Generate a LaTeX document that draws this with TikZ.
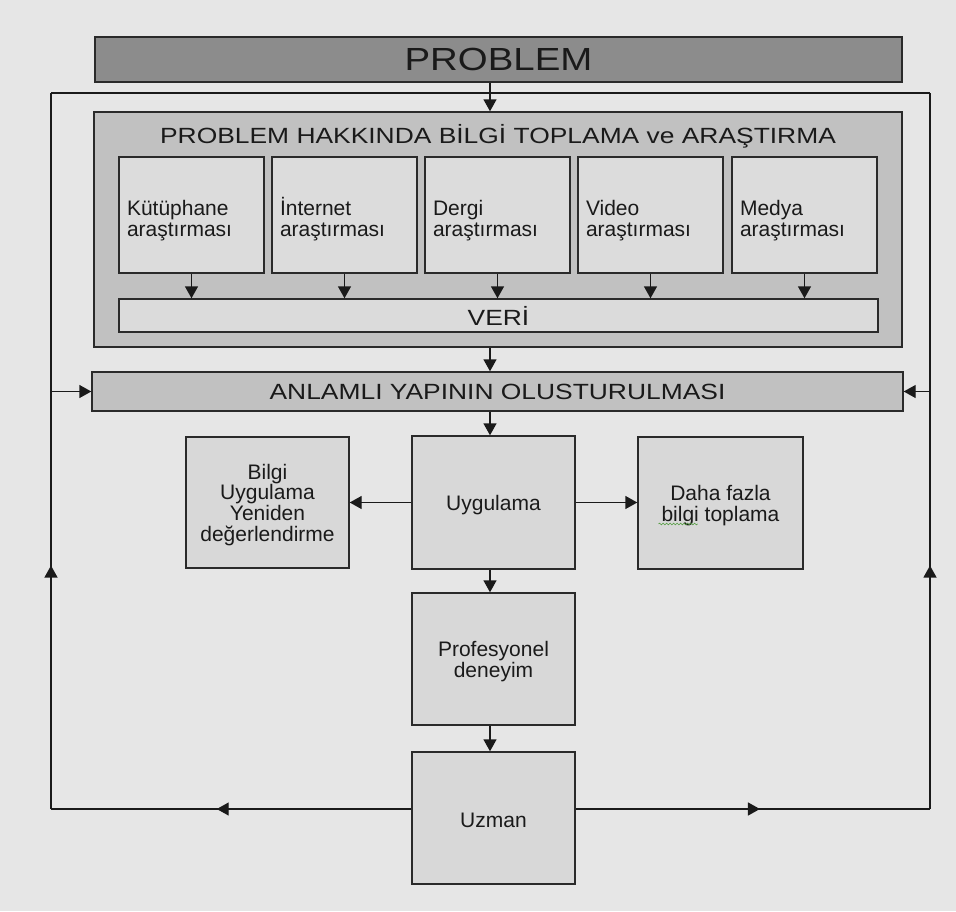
\documentclass[tikz,border=0pt]{standalone}
\usepackage{fontspec}
\setmainfont{Liberation Sans}
\newfontfamily\widefont{Liberation Sans}[FakeStretch=1.2]
\usetikzlibrary{arrows.meta,decorations.markings,decorations.pathmorphing,calc}
\definecolor{bg}{HTML}{E6E6E6}
\definecolor{ink}{HTML}{1A1A1A}
\definecolor{edge}{HTML}{2A2A2A}
\definecolor{dark}{HTML}{8C8C8C}
\definecolor{mid}{HTML}{C1C1C1}
\definecolor{pale}{HTML}{DCDCDC}
\definecolor{spell}{HTML}{4E9A3A}
\begin{document}
\begin{tikzpicture}[x=1pt,y=-1pt,
  box/.style={draw=edge, line width=1.4pt, inner sep=0pt, text=ink},
  headbox/.style={box, font={\widefont\fontsize{22}{24}\selectfont}},
  srcbox/.style={box, fill=pale, inner xsep=8pt, text width=129pt,
    minimum height=116pt, align=left, font={\fontsize{21}{21}\selectfont},
    text height=27pt},
  stagebox/.style={box, fill=pale!98!black, minimum width=163pt,
    minimum height=132pt, align=center, font={\fontsize{21}{20.7}\selectfont}},
  wire/.style={draw=ink, line width=1.4pt},
  arr/.style={wire, -{Triangle[length=12pt,width=13pt]}},
  midarrow/.style={postaction={decorate, decoration={markings,
    mark=at position #1 with {\arrow{Triangle[length=12pt,width=13pt]}}}}}
]
\useasboundingbox (0,0) rectangle (956,911);
\fill[bg] (0,0) rectangle (956,911);

% problem statement
\node[box, fill=dark, minimum width=807pt, minimum height=45pt,
  font={\widefont\fontsize{32}{34}\selectfont}] (problem) at (498.5,59.5) {PROBLEM};

% research stage with its sources
\node[box, fill=mid, minimum width=808pt, minimum height=235pt] (gather) at (498,229.5) {};
\node[text=ink, inner sep=0pt, font={\widefont\fontsize{22}{24}\selectfont}] (gtitle) at (498,136)
  {PROBLEM HAKKINDA BİLGİ TOPLAMA ve ARAŞTIRMA};

\node[srcbox] (lib) at (191.5,215) {Kütüphane\\araştırması};
\node[srcbox] (web) at (344.5,215) {İnternet\\araştırması};
\node[srcbox] (mag) at (497.5,215) {Dergi\\araştırması};
\node[srcbox] (vid) at (650.5,215) {Video\\araştırması};
\node[srcbox] (med) at (804.5,215) {Medya\\araştırması};

\node[headbox, fill=pale!104!white, minimum width=759pt, minimum height=33pt] (veri) at (498.5,315.5) {VERİ};

\foreach \s in {lib,web,mag,vid,med}
  \draw[arr] (\s.south) -- (\s.south |- veri.north);

% structuring
\node[headbox, fill=mid, minimum width=811pt, minimum height=39pt] (anlam) at (497.5,391.5)
  {ANLAMLI YAPININ OLUSTURULMASI};

% application stages (text height nudges each text block a little lower)
\node[stagebox, minimum height=133pt, text height=20pt] (uyg) at (493.5,502.5) {Uygulama};
\node[stagebox, minimum height=131pt, text height=82pt] (bilgi) at (267.5,502.5)
  {Bilgi\\Uygulama\\Yeniden\\değerlendirme};
\node[stagebox, minimum width=165pt, text height=41pt] (daha) at (720.5,503) {Daha fazla\\bilgi toplama};
\node[stagebox, text height=41pt] (prof) at (493.5,659) {Profesyonel\\deneyim};
\node[stagebox, text height=20pt] (uzman) at (493.5,818) {Uzman};

% spelling mark under "bilgi"
\draw[spell, line width=0.6pt, decorate,
  decoration={snake, amplitude=0.9pt, segment length=3.5pt}]
  ($(daha.center)+(-62,21)$) -- ($(daha.center)+(-23,21)$);

% main flow down the centre
\coordinate (spine) at (490,0);
\draw[arr] (spine |- problem.south) -- (spine |- gather.north);
\draw[arr] (spine |- gather.south) -- (spine |- anlam.north);
\draw[arr] (spine |- anlam.south) -- (spine |- uyg.north);
\draw[arr] (spine |- uyg.south) -- (spine |- prof.north);
\draw[arr] (spine |- prof.south) -- (spine |- uzman.north);

\draw[arr] (uyg.west) -- (bilgi.east |- uyg.west);
\draw[arr] (uyg.east) -- (daha.west |- uyg.east);

% feedback loop from the expert back to the structuring stage
\coordinate (tl) at (51,93);
\coordinate (tr) at (930,93);
\coordinate (bl) at (51,809);
\coordinate (br) at (930,809);
\draw[wire] (tl) -- (tr);
\draw[wire, midarrow=0.54] (uzman.west |- bl) -- (bl);
\draw[wire, midarrow=0.52] (uzman.east |- br) -- (br);
\draw[wire, midarrow=0.34] (bl) -- (tl);
\draw[wire, midarrow=0.34] (br) -- (tr);
\draw[arr] (tl |- anlam.west) -- (anlam.west);
\draw[arr] (tr |- anlam.east) -- (anlam.east);
\end{tikzpicture}
\end{document}
